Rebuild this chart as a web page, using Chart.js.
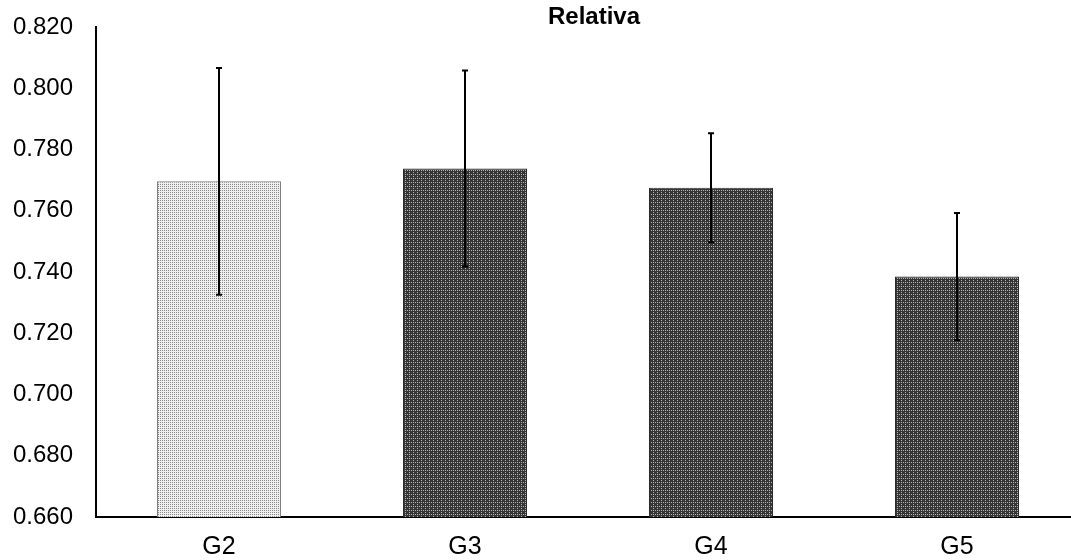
<!DOCTYPE html>
<html>
<head>
<meta charset="utf-8">
<script src="https://cdn.jsdelivr.net/npm/chart.js@4/dist/chart.umd.min.js"></script>
<style>
  html, body { margin: 0; padding: 0; background: #fff; overflow: hidden; }
  #wrap { width: 1084px; height: 560px; }
</style>
</head>
<body>
<div id="wrap"><canvas id="chart"></canvas></div>
<script>
const groups = ["G2", "G3", "G4", "G5"];
const means = [0.7696, 0.7738, 0.7675, 0.7385];
const errors = [0.037, 0.032, 0.0178, 0.0208];
const titleText = "Relativa";
const yMin = 0.66;
const yMax = 0.82;
const yStep = 0.02;

// Fill patterns like the Excel ones
function makePattern(base, dot, light) {
  const c = document.createElement("canvas");
  c.width = 4;
  c.height = 4;
  const g = c.getContext("2d");
  g.fillStyle = base;
  g.fillRect(0, 0, 4, 4);
  g.fillStyle = dot;
  if (light) {
    g.fillRect(0, 0, 1, 1);
    g.fillRect(2, 2, 1, 1);
    g.fillRect(2, 0, 1, 1);
    g.fillRect(0, 2, 1, 1);
  } else {
    g.fillRect(1, 0, 1, 1);
    g.fillRect(3, 2, 1, 1);
    g.fillRect(1, 2, 1, 1);
  }
  return g.createPattern(c, "repeat");
}

const lightFill = makePattern("#efefef", "#8a8a8a", true);
const darkFill = makePattern("#353535", "#b5b5b5", false);

const errorBars = {
  id: "errorBars",
  afterDatasetsDraw(chart) {
    const ctx = chart.ctx;
    const meta = chart.getDatasetMeta(0);
    const y = chart.scales.y;
    ctx.save();
    ctx.strokeStyle = "#000";
    ctx.lineWidth = 2;
    meta.data.forEach((bar, i) => {
      const top = y.getPixelForValue(means[i] + errors[i]);
      const bottom = y.getPixelForValue(means[i] - errors[i]);
      ctx.beginPath();
      ctx.moveTo(bar.x, top);
      ctx.lineTo(bar.x, bottom);
      ctx.moveTo(bar.x - 3, top);
      ctx.lineTo(bar.x + 3, top);
      ctx.moveTo(bar.x - 3, bottom);
      ctx.lineTo(bar.x + 3, bottom);
      ctx.stroke();
    });
    ctx.restore();
  }
};

// Title sits over the plot, slightly overlapping its top
const plotTitle = {
  id: "plotTitle",
  afterDraw(chart) {
    const ctx = chart.ctx;
    const area = chart.chartArea;
    ctx.save();
    ctx.fillStyle = "#000";
    ctx.font = "bold 24px 'Liberation Sans'";
    ctx.textAlign = "center";
    ctx.textBaseline = "middle";
    ctx.fillText(titleText, (area.left + area.right) / 2 + 6, area.top - 10);
    ctx.restore();
  }
};

const ctx = document.getElementById("chart").getContext("2d");
new Chart(ctx, {
  type: "bar",
  data: {
    labels: groups,
    datasets: [
      {
        data: means,
        backgroundColor: [lightFill, darkFill, darkFill, darkFill],
        borderColor: ["#7f7f7f", "#2a2a2a", "#2a2a2a", "#2a2a2a"],
        borderWidth: 1,
        categoryPercentage: 1,
        barPercentage: 0.504
      }
    ]
  },
  options: {
    responsive: true,
    maintainAspectRatio: false,
    animation: false,
    layout: {
      padding: { top: 0, left: 0, right: 4, bottom: 0 }
    },
    plugins: {
      legend: { display: false },
      tooltip: { enabled: false },
      title: { display: false }
    },
    scales: {
      x: {
        grid: { display: false, drawTicks: false },
        border: { color: "#000", width: 2 },
        ticks: {
          color: "#000",
          padding: 15,
          font: { family: "Liberation Sans", size: 25 }
        },
        afterFit(scale) { scale.height = 43; }
      },
      y: {
        min: yMin,
        max: yMax,
        grid: { display: false, drawTicks: false },
        border: { color: "#000", width: 2 },
        ticks: {
          stepSize: yStep,
          color: "#000",
          padding: 23,
          font: { family: "Liberation Sans", size: 24, lineHeight: 1 },
          callback: (v) => Number(v).toFixed(3)
        },
        afterFit(scale) {
          scale.width = 96;
          scale.paddingTop = 27;
        }
      }
    }
  },
  plugins: [errorBars, plotTitle]
});
</script>
</body>
</html>
